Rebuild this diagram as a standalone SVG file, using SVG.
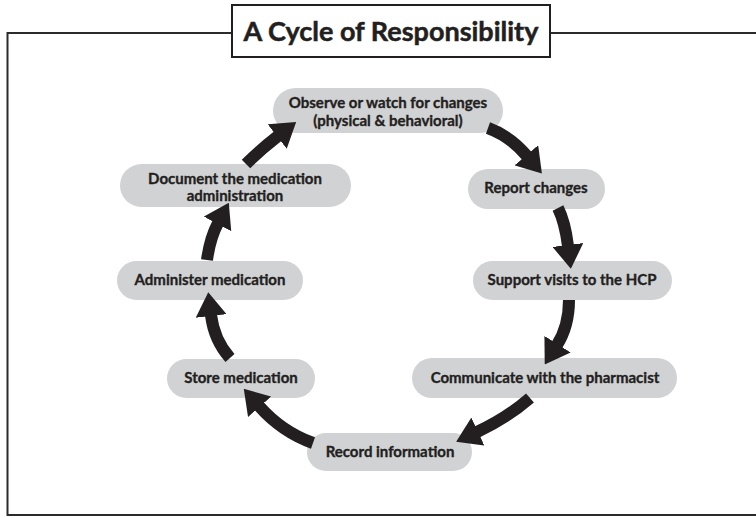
<svg xmlns="http://www.w3.org/2000/svg" width="756" height="518" viewBox="0 0 756 518">
  <style>
    .frame { fill: none; stroke: #2b2b2b; stroke-width: 2; }
    .title-box { fill: #ffffff; stroke: #231f20; stroke-width: 2; }
    .title { font-family: Lato, "Open Sans", sans-serif; font-weight: bold; font-size: 27px; fill: #231f20; stroke: #231f20; stroke-width: 0.5; text-anchor: middle; }
    .pill { fill: #d1d2d4; }
    .label { font-family: Lato, "Open Sans", sans-serif; font-weight: bold; font-size: 15px; fill: #231f20; stroke: #231f20; stroke-width: 0.35; text-anchor: middle; }
    .shaft { fill: none; stroke: #231f20; stroke-width: 12; stroke-linecap: butt; }
  </style>
  <defs>
    <marker id="head" viewBox="0 0 24 31" markerWidth="24" markerHeight="31" refX="1" refY="15.5" markerUnits="userSpaceOnUse" orient="auto">
      <path d="M0,0 L24,15.5 L0,31 Z" fill="#231f20"/>
    </marker>
  </defs>
  <rect width="756" height="518" fill="#ffffff"/>

  <!-- outer frame with title box -->
  <rect class="frame" x="7.5" y="33" width="760" height="482"/>
  <g id="title">
    <rect class="title-box" x="232" y="5" width="318" height="52"/>
    <text class="title" x="391" y="41">A Cycle of Responsibility</text>
  </g>

  <!-- steps of the cycle -->
  <g id="observe">
    <rect class="pill" x="273" y="88" width="230" height="45" rx="22.5"/>
    <text class="label" x="388" y="108">Observe or watch for changes</text>
    <text class="label" x="388" y="126">(physical &amp; behavioral)</text>
  </g>
  <g id="report">
    <rect class="pill" x="468" y="169" width="137" height="40" rx="20"/>
    <text class="label" x="536" y="193">Report changes</text>
  </g>
  <g id="support">
    <rect class="pill" x="473" y="261" width="199" height="39" rx="19.5"/>
    <text class="label" x="572" y="285">Support visits to the HCP</text>
  </g>
  <g id="communicate">
    <rect class="pill" x="412" y="358" width="265" height="40" rx="20"/>
    <text class="label" x="545" y="383">Communicate with the pharmacist</text>
  </g>
  <g id="record">
    <rect class="pill" x="307" y="433" width="165" height="38" rx="19"/>
    <text class="label" x="390" y="457">Record information</text>
  </g>
  <g id="store">
    <rect class="pill" x="167" y="359" width="148" height="39" rx="19.5"/>
    <text class="label" x="241" y="383">Store medication</text>
  </g>
  <g id="administer">
    <rect class="pill" x="117" y="261" width="186" height="39" rx="19.5"/>
    <text class="label" x="210" y="285">Administer medication</text>
  </g>
  <g id="document">
    <rect class="pill" x="120" y="164" width="231" height="43" rx="21.5"/>
    <text class="label" x="235" y="184">Document the medication</text>
    <text class="label" x="235" y="201">administration</text>
  </g>

  <!-- connectors, clockwise -->
  <g id="connectors">
    <path class="shaft" marker-end="url(#head)" d="M488,128 Q510,136 527,156"/>
    <path class="shaft" marker-end="url(#head)" d="M558,208 Q565,222 568,246"/>
    <path class="shaft" marker-end="url(#head)" d="M569,300 Q569,326 557,345"/>
    <path class="shaft" marker-end="url(#head)" d="M530,398 Q507,418 477,432"/>
    <path class="shaft" marker-end="url(#head)" d="M313,443 Q282,432 259,406"/>
    <path class="shaft" marker-end="url(#head)" d="M230,358 Q214,340 211,315"/>
    <path class="shaft" marker-end="url(#head)" d="M207,260 Q210,238 218,223"/>
    <path class="shaft" marker-end="url(#head)" d="M246,164 Q260,150 278,136"/>
  </g>
</svg>
